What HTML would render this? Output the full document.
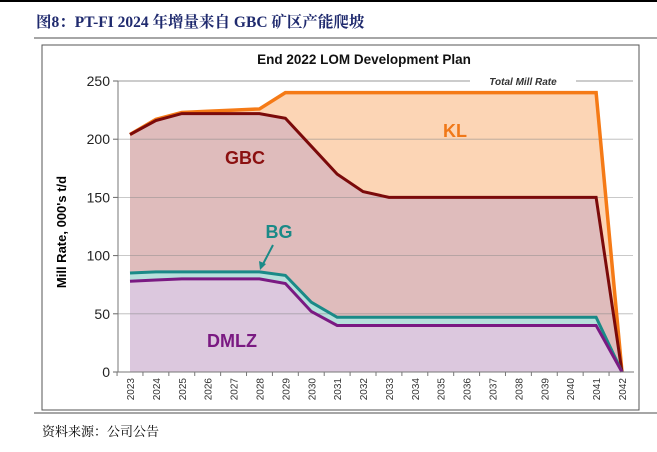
<!DOCTYPE html>
<html><head><meta charset="utf-8">
<style>
body{margin:0;background:#fff;width:657px;height:452px;overflow:hidden;}
svg{display:block;}
</style></head>
<body>
<svg id="c" width="657" height="452" xmlns="http://www.w3.org/2000/svg">
<line x1="0" y1="1" x2="657" y2="1" stroke="#000" stroke-width="2"/>
<text x="36" y="27" font-family="'Liberation Serif','Noto Serif CJK SC',serif" font-weight="bold" font-size="15.5" fill="#1f2a6e">图8：PT-FI 2024 年增量来自 GBC 矿区产能爬坡</text>
<line x1="34" y1="38" x2="657" y2="38" stroke="#888" stroke-width="1.5"/>
<rect x="42" y="45" width="597" height="365" fill="#fff" stroke="#555" stroke-width="1"/>
<text x="364" y="64" text-anchor="middle" font-family="'Liberation Sans',sans-serif" font-weight="bold" font-size="13.5" fill="#111">End 2022 LOM Development Plan</text>
<g id="grid"></g>
<g id="areas"></g>
<g id="axes"></g>
<text x="455" y="137" text-anchor="middle" font-family="'Liberation Sans',sans-serif" font-weight="bold" font-size="18" fill="#f07818">KL</text>
<text x="245" y="164" text-anchor="middle" font-family="'Liberation Sans',sans-serif" font-weight="bold" font-size="18" fill="#8b1010">GBC</text>
<text x="279" y="238" text-anchor="middle" font-family="'Liberation Sans',sans-serif" font-weight="bold" font-size="18" fill="#1a8a87">BG</text>
<line x1="273" y1="245" x2="262" y2="266" stroke="#1a8a87" stroke-width="2"/>
<polygon points="260,270 259,261 266,264" fill="#1a8a87"/>
<text x="232" y="347" text-anchor="middle" font-family="'Liberation Sans',sans-serif" font-weight="bold" font-size="18" fill="#7a1a82">DMLZ</text>
<text transform="translate(66,232) rotate(-90)" text-anchor="middle" font-family="'Liberation Sans',sans-serif" font-weight="bold" font-size="13" fill="#000">Mill Rate, 000's t/d</text>
<line x1="34" y1="413" x2="657" y2="413" stroke="#888" stroke-width="1.5"/>
<text x="42" y="436" font-family="'Liberation Serif','Noto Serif CJK SC',serif" font-size="13" fill="#000">资料来源：公司公告</text>
</svg>
<script>
const years=["2023","2024","2025","2026","2027","2028","2029","2030","2031","2032","2033","2034","2035","2036","2037","2038","2039","2040","2041","2042"];
const totalRate=[204,217,223,224,225,226,240,240,240,240,240,240,240,240,240,240,240,240,240,0];
const gbcTop=[204,216,222,222,222,222,218,194,170,155,150,150,150,150,150,150,150,150,150,0];
const bgTop=[85,86,86,86,86,86,83,60,47,47,47,47,47,47,47,47,47,47,47,0];
const dmlzTop=[78,79,80,80,80,80,76,52,40,40,40,40,40,40,40,40,40,40,40,0];
const yTicks=[0,50,100,150,200,250];
const NS="http://www.w3.org/2000/svg";
const X0=130,X1=622,Y0=372,Y250=81;
function xs(i){return X0+(X1-X0)*i/(years.length-1);}
function ys(v){return Y0-(Y0-Y250)*v/250;}
function mk(tag,attrs,parent){const e=document.createElementNS(NS,tag);for(const k in attrs)e.setAttribute(k,attrs[k]);parent.appendChild(e);return e;}
const grid=document.getElementById('grid'),areas=document.getElementById('areas'),axes=document.getElementById('axes');
yTicks.forEach(v=>{
  if(v===250){
    const g1=mk('line',{x1:118,y1:ys(v),x2:470,y2:ys(v),stroke:'#999','stroke-width':1},grid);
    
    
    const g2=mk('line',{x1:576,y1:ys(v),x2:633,y2:ys(v),stroke:'#999','stroke-width':1},grid);
    
    
    const tl=mk('text',{x:523,y:ys(v)+4,'text-anchor':'middle','font-family':"'Liberation Sans',sans-serif",'font-size':10,'font-style':'italic','font-weight':'bold',fill:'#333'},grid);
    tl.textContent='Total Mill Rate';
    
    
  }
  const t=mk('text',{x:110,y:ys(v)+5,'text-anchor':'end','font-family':"'Liberation Sans',sans-serif",'font-size':14,fill:'#222'},axes);
  t.textContent=v;
  
  
  const tk=mk('line',{x1:113,y1:ys(v),x2:118,y2:ys(v),stroke:'#666'},axes);
  
  
});
function areaPath(top,bot){
  let d='M'+xs(0)+','+ys(top[0]);
  for(let i=1;i<top.length;i++)d+=' L'+xs(i)+','+ys(top[i]);
  for(let i=top.length-1;i>=0;i--)d+=' L'+xs(i)+','+ys(bot?bot[i]:0);
  return d+' Z';
}
function linePath(top){let d='M'+xs(0)+','+ys(top[0]);for(let i=1;i<top.length;i++)d+=' L'+xs(i)+','+ys(top[i]);return d;}
const zero=years.map(()=>0);
const a1=mk('path',{d:areaPath(totalRate,gbcTop),fill:'#fcd5b5'},areas);


const a2=mk('path',{d:areaPath(gbcTop,bgTop),fill:'#dfbcbc'},areas);


const a3=mk('path',{d:areaPath(bgTop,dmlzTop),fill:'#b7e0dc'},areas);


const a4=mk('path',{d:areaPath(dmlzTop,zero),fill:'#dcc8de'},areas);


[50,100,150,200].forEach(v=>{
  const g=mk('line',{x1:118,y1:ys(v),x2:633,y2:ys(v),stroke:'#888','stroke-width':0.8,opacity:0.6},areas);
  
  
});
const l1=mk('path',{d:linePath(totalRate),fill:'none',stroke:'#f57a16','stroke-width':3.5},areas);


const l2=mk('path',{d:linePath(gbcTop),fill:'none',stroke:'#7b0a0a','stroke-width':3},areas);


const l3=mk('path',{d:linePath(bgTop),fill:'none',stroke:'#1a8a87','stroke-width':3},areas);


const l4=mk('path',{d:linePath(dmlzTop),fill:'none',stroke:'#7a1a82','stroke-width':3},areas);


const ya=mk('line',{x1:118,y1:ys(250),x2:118,y2:Y0,stroke:'#777'},axes);


const xa=mk('line',{x1:118,y1:Y0,x2:634,y2:Y0,stroke:'#777'},axes);


const step=(X1-X0)/(years.length-1);
years.forEach((y,i)=>{
  const tk=mk('line',{x1:xs(i)-step/2,y1:Y0,x2:xs(i)-step/2,y2:Y0+4,stroke:'#777'},axes);
  
  
  const t=mk('text',{transform:'translate('+(xs(i)+4)+','+(Y0+6)+') rotate(-90)','text-anchor':'end','font-family':"'Liberation Sans',sans-serif",'font-size':10,fill:'#333'},axes);
  t.textContent=y;
  
  
});
</script>
</body></html>
